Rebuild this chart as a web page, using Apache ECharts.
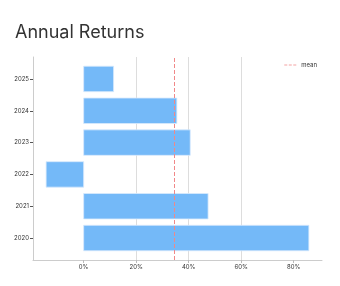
<!DOCTYPE html>
<html>
<head>
<meta charset="utf-8">
<script src="https://cdn.jsdelivr.net/npm/echarts@6/dist/echarts.min.js"></script>
<style>html,body{margin:0;padding:0;background:#fff}#c{width:340px;height:286px}</style>
</head>
<body>
<div id="c"></div>
<script>
const years = ['2020', '2021', '2022', '2023', '2024', '2025'];
const returns = [85.8, 47.4, -14.3, 40.6, 35.5, 11.4];
const xTicks = [0, 20, 40, 60, 80];

const meanVal = returns.reduce((a, b) => a + b, 0) / returns.length;
const yIdx = years.map((_, i) => i);
const font = 'Inter';
const dashIcon = 'path://M0,0h3v1h-3z M4.5,0h3v1h-3z M9,0h3v1h-3z';

const chart = echarts.init(document.getElementById('c'), null, {renderer: 'canvas'});
chart.setOption({
  animation: false,
  backgroundColor: '#fff',
  title: {
    text: 'Annual Returns', left: 10, top: 19,
    textStyle: {fontFamily: font, fontSize: 18, fontWeight: 'normal', color: '#333'}
  },
  legend: {
    right: 18, top: 57, itemWidth: 12, itemHeight: 1, itemGap: 4,
    textStyle: {fontFamily: font, fontSize: 6, color: '#333'},
    data: [{name: 'mean', icon: dashIcon}]
  },
  grid: {left: 33, right: 18, top: 57, bottom: 26},
  xAxis: {
    type: 'value', min: -19.3, max: 90.8, minInterval: 20, maxInterval: 20,
    axisLine: {show: true, onZero: false, lineStyle: {color: '#ccc', width: 1}},
    axisTick: {show: true, length: 3, customValues: xTicks, lineStyle: {color: '#bbb'}},
    axisLabel: {customValues: xTicks, formatter: v => v + '%', fontFamily: font, fontSize: 6, color: '#333', margin: 4},
    splitLine: {show: true, showMinLine: false, showMaxLine: false, lineStyle: {color: '#ddd', width: 1}}
  },
  yAxis: {
    type: 'value', min: -0.69, max: 5.69, minInterval: 1, maxInterval: 1,
    axisLine: {show: true, onZero: false, lineStyle: {color: '#ccc', width: 1}},
    axisTick: {show: true, length: 3, customValues: yIdx, lineStyle: {color: '#555'}},
    axisLabel: {customValues: yIdx, formatter: v => years[v], fontFamily: font, fontSize: 6, color: '#333', margin: 4},
    splitLine: {show: false}
  },
  series: [
    {
      type: 'custom', name: 'returns',
      data: returns.map((v, i) => [v, i]),
      encode: {x: 0, y: 1},
      renderItem: (params, api) => {
        const v = api.value(0), y = api.value(1);
        const p0 = api.coord([0, y + 0.4]);
        const p1 = api.coord([v, y - 0.4]);
        return {
          type: 'rect',
          shape: {x: Math.min(p0[0], p1[0]), y: p0[1], width: Math.abs(p1[0] - p0[0]), height: p1[1] - p0[1]},
          style: {fill: '#74b9f8', stroke: '#d8eafc', lineWidth: 0.8}
        };
      },
      z: 2
    },
    {
      type: 'line', name: 'mean', data: [], symbol: 'none',
      lineStyle: {type: 'dashed', color: '#f4a3a3', width: 1},
      itemStyle: {color: '#f4a3a3'},
      markLine: {
        silent: true, symbol: 'none', label: {show: false},
        lineStyle: {type: 'dashed', color: '#f08888', width: 1},
        data: [{xAxis: meanVal}]
      },
      z: 3
    }
  ]
});
</script>
</body>
</html>
